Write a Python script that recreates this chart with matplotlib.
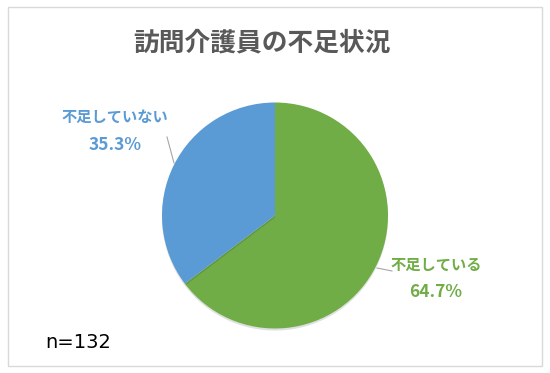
import matplotlib
matplotlib.use("Agg")
import matplotlib.pyplot as plt
from matplotlib.patches import Rectangle
import matplotlib.patheffects as pe

plt.rcParams['font.family'] = ['Noto Sans CJK JP', 'DejaVu Sans']

title = "訪問介護員の不足状況"
categories = ["不足している", "不足していない"]
shares = [64.7, 35.3]
colors = ["#70AD47", "#5B9BD5"]
sample_note = "n=132"

W, H = 550, 373
fig = plt.figure(figsize=(W / 100, H / 100), dpi=100)
fig.patch.set_facecolor("white")

# outer frame of the chart area
fig.add_artist(Rectangle((8 / W, (H - 366) / H), (542 - 8) / W, (366 - 7) / H,
                         transform=fig.transFigure, fill=False,
                         edgecolor="#D9D9D9", linewidth=1.0))

# pie axes: centre (275, 215.5) px from top-left, radius 113 px
cx, cy, r = 275, 215.5, 113
ax = fig.add_axes([(cx - r) / W, (H - cy - r) / H, 2 * r / W, 2 * r / H])
wedges, _ = ax.pie(shares, colors=colors, startangle=90, counterclock=False,
                   radius=1.0, wedgeprops=dict(linewidth=0))
for w in wedges:
    w.set_path_effects([pe.SimplePatchShadow(offset=(0, -1.5), shadow_rgbFace="#000000", alpha=0.12),
                        pe.Normal()])
ax.set_xlim(-1, 1)
ax.set_ylim(-1, 1)
ax.set_aspect("equal")
ax.axis("off")


def px(x, y):
    return (x - cx) / r, (cy - y) / r


# leader lines
for (x0, y0), (x1, y1) in [((167, 137), (174, 163)), ((377, 268), (392, 271))]:
    a, b = px(x0, y0)
    c, d = px(x1, y1)
    ax.plot([a, c], [b, d], color="#A6A6A6", linewidth=0.8, clip_on=False)

fig.text(262 / W, 1 - 43 / H, title, ha="center", va="center",
         fontsize=18.5, fontweight="bold", color="#595959")

# data labels: category name above, share below
label_pos = [(436, 265, 292), (115, 117, 145)]
for cat, val, col, (lx, ly1, ly2) in zip(categories, shares, colors, label_pos):
    fig.text(lx / W, 1 - ly1 / H, cat, ha="center", va="center",
             fontsize=11, fontweight="bold", color=col)
    fig.text(lx / W, 1 - ly2 / H, f"{val:.1f}%", ha="center", va="center",
             fontsize=12.5, fontweight="bold", color=col)

fig.text(45 / W, 1 - 343 / H, sample_note, ha="left", va="center",
         fontsize=14, color="#000000", family="DejaVu Sans")

fig.savefig("out.png", dpi=100, facecolor="white")
